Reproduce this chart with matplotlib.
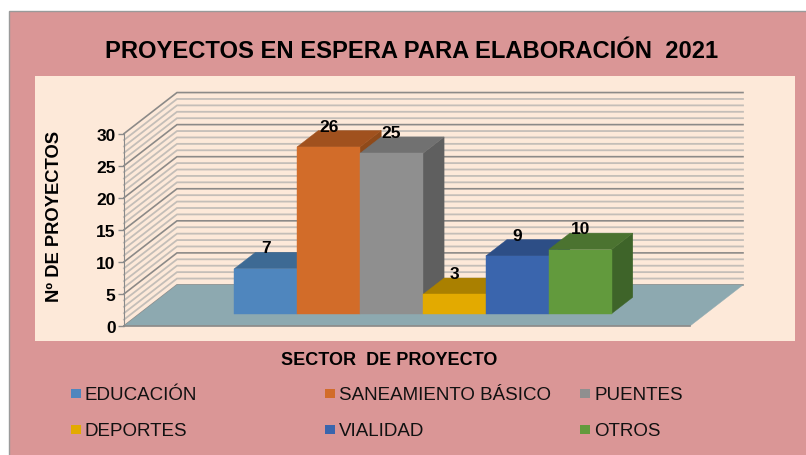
import matplotlib
matplotlib.use("Agg")
import matplotlib.pyplot as plt
from matplotlib.patches import Rectangle

plt.rcParams["font.family"] = ["Liberation Sans", "DejaVu Sans"]

sectors = ["EDUCACIÓN", "SANEAMIENTO BÁSICO", "PUENTES", "DEPORTES", "VIALIDAD", "OTROS"]
projects = [7, 26, 25, 3, 9, 10]
front_colors = ["#4F86BE", "#D26C29", "#8F8F8F", "#E3AA00", "#3A65AD", "#629A3D"]
top_colors = ["#3D6A94", "#A0511E", "#717171", "#AA8000", "#2D4E86", "#4B7330"]
side_colors = ["#35597D", "#8F4A1A", "#5F5F5F", "#8F6C00", "#263F6D", "#3E6429"]

W, H = 806, 456
PANEL = "#DA9696"
PEACH = "#FDE9D9"
FLOOR = "#8DA9B0"

# oblique depth of the 3d box, in data units (x = bar widths, y = projects)
DX = 0.8426
DY = 6.4
BAR_D0 = 0.3
BAR_D1 = 0.7
XMIN, XMAX = -1.5, 7.5


def project(x, v, d=0.0):
    return x + d * DX, v + d * DY


def face(ax, corners, color, z):
    xs, ys = zip(*[project(*c) for c in corners])
    ax.fill(xs, ys, color=color, lw=0.3, clip_on=False, zorder=z)


fig = plt.figure(figsize=(W / 100, H / 100), dpi=100, facecolor="white")

# background panels, in pixel coordinates
bg = fig.add_axes([0, 0, 1, 1])
bg.set_xlim(0, W)
bg.set_ylim(H, 0)
bg.axis("off")
bg.add_patch(Rectangle((8.5, 11.5), W, H, fc=PANEL, ec="#9A9A9A", lw=1))
bg.add_patch(Rectangle((35, 77), 760, 265, fc=PEACH, ec="none"))

bg.text(412, 51, "PROYECTOS EN ESPERA PARA ELABORACIÓN  2021", fontsize=17.15,
        fontweight="bold", ha="center", va="center", color="black")
bg.text(389, 361, "SECTOR  DE PROYECTO", fontsize=13, fontweight="bold",
        ha="center", va="center")
bg.text(55, 216, "Nº DE PROYECTOS", fontsize=13.2, fontweight="bold", rotation=90,
        ha="center", va="center")

# legend
legend_x = [71, 325, 580]
legend_y = [396, 432]
for i, name in enumerate(sectors):
    x = legend_x[i % 3]
    y = legend_y[i // 3]
    bg.add_patch(Rectangle((x, y - 5.5), 10, 9, fc=front_colors[i], ec="none"))
    bg.text(x + 14, y, name, fontsize=13.5, ha="left", va="center", color="#111111")

# front plane of the 3d box
ax = fig.add_axes([124 / W, 1 - 327 / H, 566 / W, 192.4 / H])
ax.patch.set_alpha(0)
ax.set_xlim(XMIN, XMAX)
ax.set_ylim(0, 30)
ax.set_xticks([])
ax.set_yticks(range(0, 31, 5))
ax.tick_params(axis="y", length=4, width=1, color="#8A8A8A", pad=2)
for label in ax.get_yticklabels():
    label.set_fontsize(12.5)
    label.set_fontweight("bold")
for name, spine in ax.spines.items():
    spine.set_visible(name == "left")
ax.spines["left"].set_color("#8A8A8A")

# grid on back and side walls
for v in range(0, 31):
    major = v % 5 == 0
    color = "#8C8A88" if major else "#C4BEB8"
    lw = 1.2 if major else 1.3
    xs, ys = zip(project(XMIN, v), project(XMIN, v, 1), project(XMAX, v, 1))
    ax.plot(xs, ys, color=color, lw=lw, clip_on=False, zorder=1 + major * 0.1,
            solid_joinstyle="miter")

# floor
face(ax, [(XMIN, 0, 0), (XMAX, 0, 0), (XMAX, 0, 1), (XMIN, 0, 1)], FLOOR, 2)
ax.plot([XMIN, XMAX], [0, 0], color="#8C8A88", lw=1.2, clip_on=False, zorder=2.1)

# bars, painted left to right
for i, v in enumerate(projects):
    z = 3 + i * 0.1
    face(ax, [(i + 1, 0, BAR_D0), (i + 1, 0, BAR_D1), (i + 1, v, BAR_D1), (i + 1, v, BAR_D0)],
         side_colors[i], z)
    face(ax, [(i, v, BAR_D0), (i + 1, v, BAR_D0), (i + 1, v, BAR_D1), (i, v, BAR_D1)],
         top_colors[i], z)
    face(ax, [(i, 0, BAR_D0), (i + 1, 0, BAR_D0), (i + 1, v, BAR_D0), (i, v, BAR_D0)],
         front_colors[i], z)
    ax.annotate(str(v), project(i + 0.5, v, BAR_D0), xytext=(0, 15), textcoords="offset points",
                fontsize=12.5, fontweight="bold", ha="center", va="center", zorder=5,
                annotation_clip=False)

fig.savefig("out.png", dpi=100)
